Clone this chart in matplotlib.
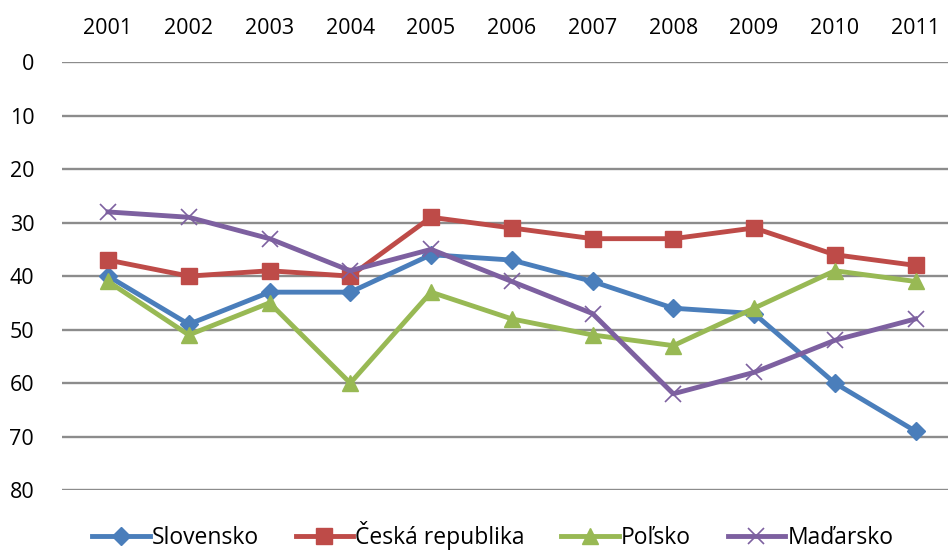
import matplotlib.pyplot as plt
import numpy as np

# --- data ---
roky = ['2001', '2002', '2003', '2004', '2005', '2006', '2007', '2008', '2009', '2010', '2011']
slovensko = [40, 49, 43, 43, 36, 37, 41, 46, 47, 60, 69]
cesko = [37, 40, 39, 40, 29, 31, 33, 33, 31, 36, 38]
polsko = [41, 51, 45, 60, 43, 48, 51, 53, 46, 39, 41]
madarsko = [28, 29, 33, 39, 35, 41, 47, 62, 58, 52, 48]

plt.rcParams['font.family'] = ['Open Sans', 'DejaVu Sans']

fig = plt.figure(figsize=(9.48, 5.55), dpi=100)
ax = fig.add_axes([0.0654, 0.117, 0.937, 0.771])

x = np.arange(len(roky))
ax.plot(x, slovensko, color='#4A7EBB', lw=3.5, marker='D', ms=9, label='Slovensko')
ax.plot(x, cesko, color='#BE4B48', lw=3.5, marker='s', ms=11, label='Česká republika')
ax.plot(x, polsko, color='#98B954', lw=3.5, marker='^', ms=12, label='Poľsko')
ax.plot(x, madarsko, color='#7D60A0', lw=3.5, marker='x', ms=12, mew=1.2, label='Maďarsko')

ax.set_ylim(80, 0)
ax.set_yticks(range(0, 81, 10))
ax.set_xlim(-0.57, 10.43)
ax.set_xticks(x)
ax.set_xticklabels(roky)
ax.xaxis.tick_top()
ax.tick_params(axis='both', length=0, labelsize=15.5)
ax.tick_params(axis='x', pad=17)
ax.tick_params(axis='y', pad=20)

ax.grid(axis='y', color='#8C8C8C', lw=1.7)
ax.set_axisbelow(True)
for s in ax.spines.values():
    s.set_visible(False)

ax.legend(loc='upper center', bbox_to_anchor=(0.485, -0.052), ncol=4, frameon=False,
          fontsize=16.5, handlelength=2.5, handletextpad=0.1, columnspacing=1.6,
          borderaxespad=0)

fig.savefig('out.png', dpi=100)
